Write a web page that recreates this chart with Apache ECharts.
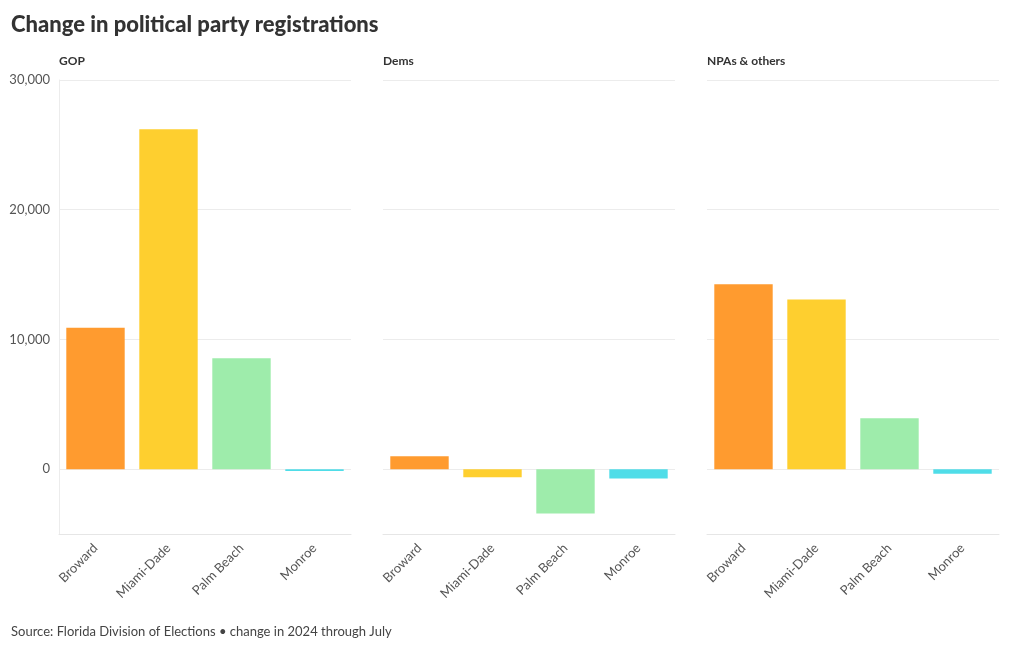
<!DOCTYPE html>
<html>
<head>
<meta charset="utf-8">
<script src="https://cdn.jsdelivr.net/npm/echarts@6/dist/echarts.min.js"></script>
<style>
  html, body { margin: 0; padding: 0; background: #fff; }
  #chart { width: 1020px; height: 650px; }
</style>
</head>
<body>
<div id="chart"></div>
<script>
// counties on each panel
var counties = ['Broward', 'Miami-Dade', 'Palm Beach', 'Monroe'];
// panel names
var panels = ['GOP', 'Dems', 'NPAs & others'];
// change in registrations
var gopValues = [10900, 26200, 8550, -150];
var demValues = [1000, -620, -3420, -720];
var npaValues = [14250, 13080, 3930, -360];
var yTicks = [0, 10000, 20000, 30000];

var barColors = ['#ff9b2f', '#fecf2f', '#9eecab', '#4fdde8'];
var font = 'Lato, "Noto Sans", sans-serif';

var allValues = [gopValues, demValues, npaValues];
var lefts = [59, 383, 707];
var panelW = 292;

var chart = echarts.init(document.getElementById('chart'));

var grids = [], xAxes = [], yAxes = [], series = [], titles = [];

titles.push({
  text: 'Change in political party registrations',
  left: 11, top: 14, padding: 0,
  textStyle: { fontFamily: font, fontSize: 22, fontWeight: 900, color: '#333' }
});
titles.push({
  text: 'Source: Florida Division of Elections • change in 2024 through July',
  left: 11, top: 625, padding: 0,
  textStyle: { fontFamily: font, fontSize: 13, fontWeight: 'normal', color: '#444' }
});

panels.forEach(function (name, i) {
  titles.push({
    text: name,
    left: lefts[i], top: 55, padding: 0,
    textStyle: { fontFamily: font, fontSize: 12, fontWeight: 'bold', color: '#333' }
  });
  grids.push({ left: lefts[i], top: 80, width: panelW, height: 454 });
  xAxes.push({
    type: 'category',
    gridIndex: i,
    data: counties,
    position: 'bottom',
    axisLine: { onZero: false, lineStyle: { color: '#e6e6e6' } },
    axisTick: { alignWithLabel: true, length: 5, lineStyle: { color: '#e6e6e6' } },
    axisLabel: { rotate: 45, fontFamily: font, fontSize: 13, color: '#555', margin: 12 }
  });
  yAxes.push({
    type: 'value',
    gridIndex: i,
    min: -5000,
    max: 30000,
    interval: 5000,
    axisLine: { show: i === 0, lineStyle: { color: '#ececec' } },
    axisTick: { show: false },
    axisLabel: {
      show: i === 0,
      fontFamily: font, fontSize: 13, color: '#555', margin: 9,
      formatter: function (v) {
        return yTicks.indexOf(v) >= 0 ? v.toLocaleString('en-US') : '';
      }
    },
    splitLine: { show: true, lineStyle: { color: ['transparent', '#ececec'], width: 1 } }
  });
  series.push({
    type: 'bar',
    xAxisIndex: i,
    yAxisIndex: i,
    data: allValues[i],
    barCategoryGap: '20%',
    itemStyle: {
      color: function (p) { return barColors[p.dataIndex]; }
    }
  });
});

chart.setOption({
  backgroundColor: '#fff',
  animation: false,
  title: titles,
  grid: grids,
  xAxis: xAxes,
  yAxis: yAxes,
  series: series
});
</script>
</body>
</html>
